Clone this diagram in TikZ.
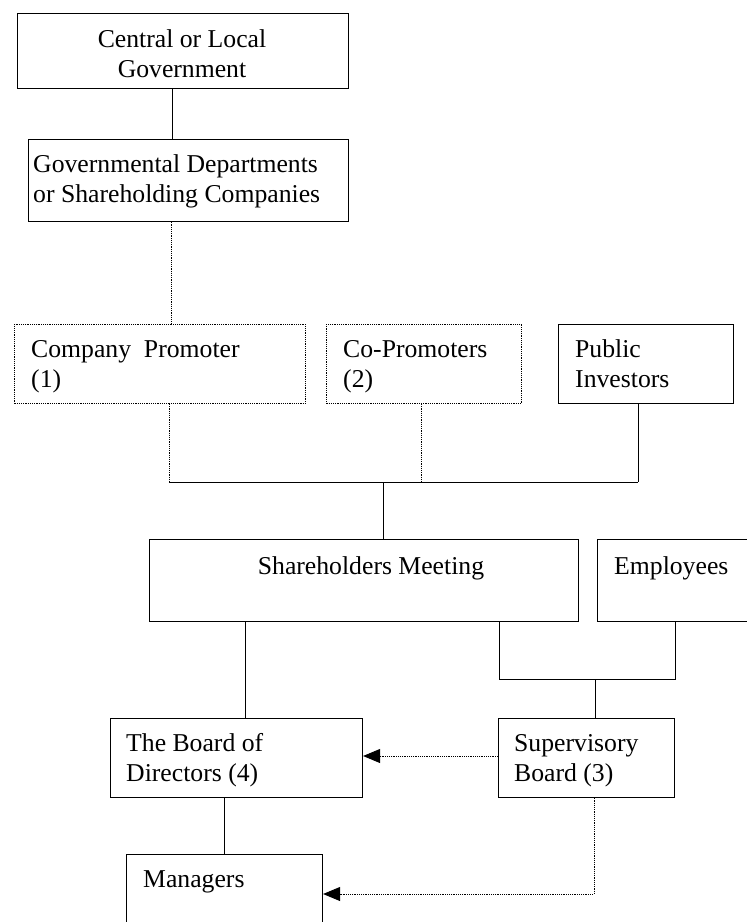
\documentclass[tikz,border=0pt]{standalone}
\usepackage{fontspec}
\setmainfont{Liberation Serif}
\usetikzlibrary{arrows.meta}
\newcommand\chartfont{\fontsize{25.7}{30}\selectfont}
\begin{document}
\begin{tikzpicture}[x=1pt,y=-1pt,
  frame/.style={draw, line width=1.1pt, anchor=north west, inner sep=0pt},
  dotframe/.style={frame, line width=0.9pt, dash pattern=on 1.2pt off 1pt},
  txt/.style={anchor=base west, inner sep=0pt, font=\chartfont},
  link/.style={line width=0.9pt},
  dotlink/.style={line width=0.9pt, dash pattern=on 1.2pt off 1pt},
  tip/.style={-{Triangle[length=17pt,width=14pt]}}]
\useasboundingbox (0,0) rectangle (747,922);
\clip (0,0) rectangle (747,922);
\fill[white] (0,0) rectangle (747,922);

% ---- boxes ----
\node[frame, minimum width=331pt, minimum height=75pt] (gov) at (17,13) {};
\node[frame, minimum width=320pt, minimum height=82pt] (dept) at (28,139) {};
\node[dotframe, minimum width=291pt, minimum height=79pt] (cp) at (14,324) {};
\node[dotframe, minimum width=195pt, minimum height=79pt] (cop) at (326,324) {};
\node[frame, minimum width=175pt, minimum height=79pt] (pub) at (558,324) {};
\node[frame, minimum width=429pt, minimum height=82pt] (sh) at (149,539) {};
\node[frame, minimum width=170pt, minimum height=82pt] (emp) at (597,539) {};
\node[frame, minimum width=252pt, minimum height=79pt] (bod) at (110,718) {};
\node[frame, minimum width=176pt, minimum height=79pt] (sup) at (498,718) {};
\node[frame, minimum width=196pt, minimum height=100pt] (mgr) at (126,854) {};

% ---- box texts ----
\node[txt, anchor=base] (gov-t) at (182,47)
  {\parbox[t]{320pt}{\centering Central or Local\\Government}};
\node[txt] (dept-t) at (33,172)
  {\parbox[t]{320pt}{\raggedright Governmental Departments\\or Shareholding Companies}};
\node[txt] (cp-t) at (31,357)
  {\parbox[t]{280pt}{\raggedright Company\ \ Promoter\\(1)}};
\node[txt] (cop-t) at (343,357)
  {\parbox[t]{180pt}{\raggedright Co-Promoters\\(2)}};
\node[txt] (pub-t) at (575,357)
  {\parbox[t]{160pt}{\raggedright Public\\Investors}};
\node[txt, anchor=base] (sh-t) at (371,574) {Shareholders Meeting};
\node[txt] (emp-t) at (614,574) {Employees};
\node[txt] (bod-t) at (126,751)
  {\parbox[t]{240pt}{\raggedright The Board of\\Directors (4)}};
\node[txt] (sup-t) at (514,751)
  {\parbox[t]{160pt}{\raggedright Supervisory\\Board (3)}};
\node[txt] (mgr-t) at (143,887) {Managers};

% ---- connector positions ----
\coordinate (xgov) at (172,0);
\coordinate (xdept) at (171,0);
\coordinate (xcp) at (169,0);
\coordinate (xcop) at (421,0);
\coordinate (xpub) at (638,0);
\coordinate (xsh) at (383,0);
\coordinate (bus) at (0,482);
\coordinate (xbod) at (245,0);
\coordinate (xshr) at (499,0);
\coordinate (xemp) at (675,0);
\coordinate (xsup) at (595,0);
\coordinate (join) at (0,679);
\coordinate (xmgr) at (224,0);
\coordinate (ysup) at (0,756);
\coordinate (xsupd) at (594,0);
\coordinate (ymgr) at (0,894);

% ---- connectors ----
\draw[link] (gov.south -| xgov) -- (dept.north -| xgov);
\draw[dotlink] (dept.south -| xdept) -- (cp.north -| xdept);
\draw[dotlink] (cp.south -| xcp) -- (bus -| xcp);
\draw[dotlink] (cop.south -| xcop) -- (bus -| xcop);
\draw[link] (pub.south -| xpub) -- (bus -| xpub);
\draw[link] (bus -| xcp) -- (bus -| xpub);
\draw[link] (bus -| xsh) -- (sh.north -| xsh);

\draw[link] (sh.south -| xbod) -- (bod.north -| xbod);
\draw[link] (sh.south -| xshr) -- (join -| xshr) -- (join -| xemp) -- (emp.south -| xemp);
\draw[link] (join -| xsup) -- (sup.north -| xsup);

\draw[dotlink, tip] (sup.west |- ysup) -- (bod.east |- ysup);
\draw[link] (bod.south -| xmgr) -- (mgr.north -| xmgr);
\draw[dotlink, tip] (sup.south -| xsupd) -- (ymgr -| xsupd) -- (mgr.east |- ymgr);
\end{tikzpicture}
\end{document}
